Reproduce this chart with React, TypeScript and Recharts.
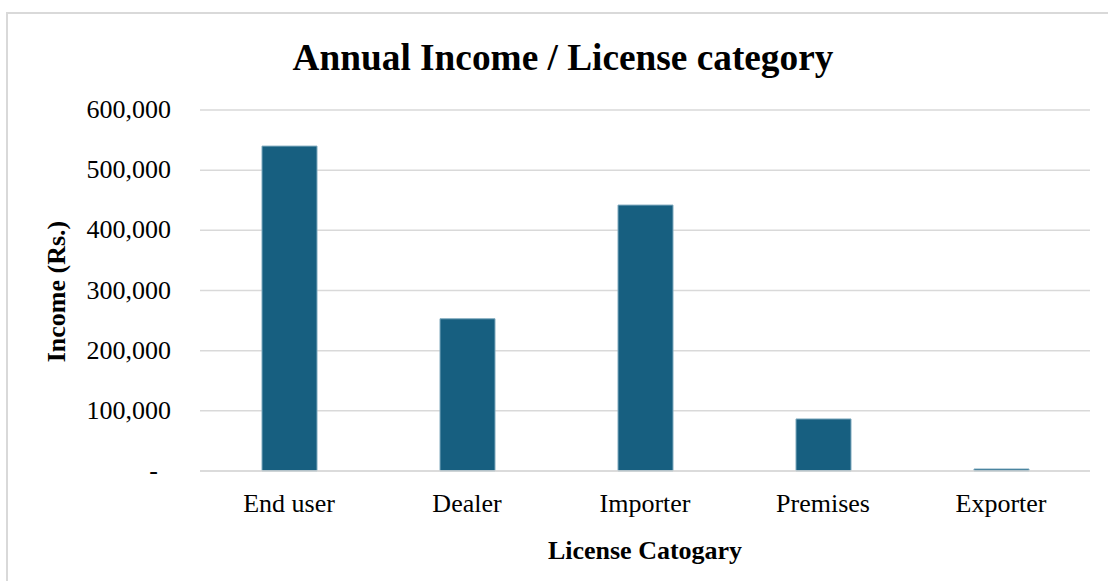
import { BarChart, Bar, XAxis, YAxis, CartesianGrid, Label } from 'recharts';

const categories = ['End user', 'Dealer', 'Importer', 'Premises', 'Exporter'];
const income = [540000, 253000, 442000, 86500, 3300];
const yTicks = [0, 100000, 200000, 300000, 400000, 500000, 600000];

const data = categories.map((name, i) => ({ name, income: income[i] }));

const FONT = '"Liberation Serif", "Times New Roman", serif';

const fmt = (v: number) => (v === 0 ? '-' : new Intl.NumberFormat('en-US').format(v));

const YTick = ({ x, y, payload }: any) => {
  const zero = payload.value === 0;
  return (
    <text
      x={zero ? x - 34 : x - 21}
      y={y}
      dy={8}
      textAnchor="end"
      fontFamily={FONT}
      fontSize={26}
      fill="#000"
    >
      {fmt(payload.value)}
    </text>
  );
};

const XTick = ({ x, y, payload }: any) => (
  <text x={x} y={y} dy={33} textAnchor="middle" fontFamily={FONT} fontSize={26} fill="#000">
    {payload.value}
  </text>
);

export default function App() {
  return (
    <div style={{ position: 'absolute', left: 0, top: 0, width: 1108, height: 581, background: '#fff', overflow: 'hidden' }}>
      <div
        style={{
          position: 'absolute',
          left: 6,
          top: 12,
          width: 1200,
          height: 700,
          borderLeft: '2px solid #d9d9d9',
          borderTop: '2px solid #d9d9d9',
        }}
      />
      <svg width={1108} height={100} style={{ position: 'absolute', left: 0, top: 0 }}>
        <text x={563} y={70} textAnchor="middle" fontFamily={FONT} fontWeight="bold" fontSize={37.3} fill="#000">
          Annual Income / License category
        </text>
      </svg>
      <div style={{ position: 'absolute', left: 0, top: 0 }}>
        <BarChart width={1108} height={581} data={data} margin={{ top: 110, right: 18, left: 0, bottom: 0 }}>
          <CartesianGrid vertical={false} stroke="#d9d9d9" strokeWidth={1.5} />
          <XAxis
            dataKey="name"
            height={110}
            tickLine={false}
            axisLine={{ stroke: '#d9d9d9', strokeWidth: 1.5 }}
            tick={<XTick />}
            interval={0}
          >
            <Label
              content={({ viewBox }: any) => (
                <text
                  x={viewBox.x + viewBox.width / 2}
                  y={viewBox.y + 88}
                  textAnchor="middle"
                  fontFamily={FONT}
                  fontWeight="bold"
                  fontSize={26}
                  fill="#000"
                >
                  License Catogary
                </text>
              )}
            />
          </XAxis>
          <YAxis
            width={200}
            domain={[0, 600000]}
            ticks={yTicks}
            tickLine={false}
            axisLine={false}
            tick={<YTick />}
            interval={0}
          >
            <Label
              content={({ viewBox }: any) => {
                const cx = 65;
                const cy = viewBox.y + viewBox.height / 2 + 1;
                return (
                  <text
                    x={cx}
                    y={cy}
                    transform={`rotate(-90, ${cx}, ${cy})`}
                    textAnchor="middle"
                    fontFamily={FONT}
                    fontWeight="bold"
                    fontSize={26}
                    fill="#000"
                  >
                    Income (Rs.)
                  </text>
                );
              }}
            />
          </YAxis>
          <Bar dataKey="income" fill="#175f80" stroke="#7ea9bd" strokeWidth={1} barSize={55} isAnimationActive={false} />
        </BarChart>
      </div>
    </div>
  );
}
